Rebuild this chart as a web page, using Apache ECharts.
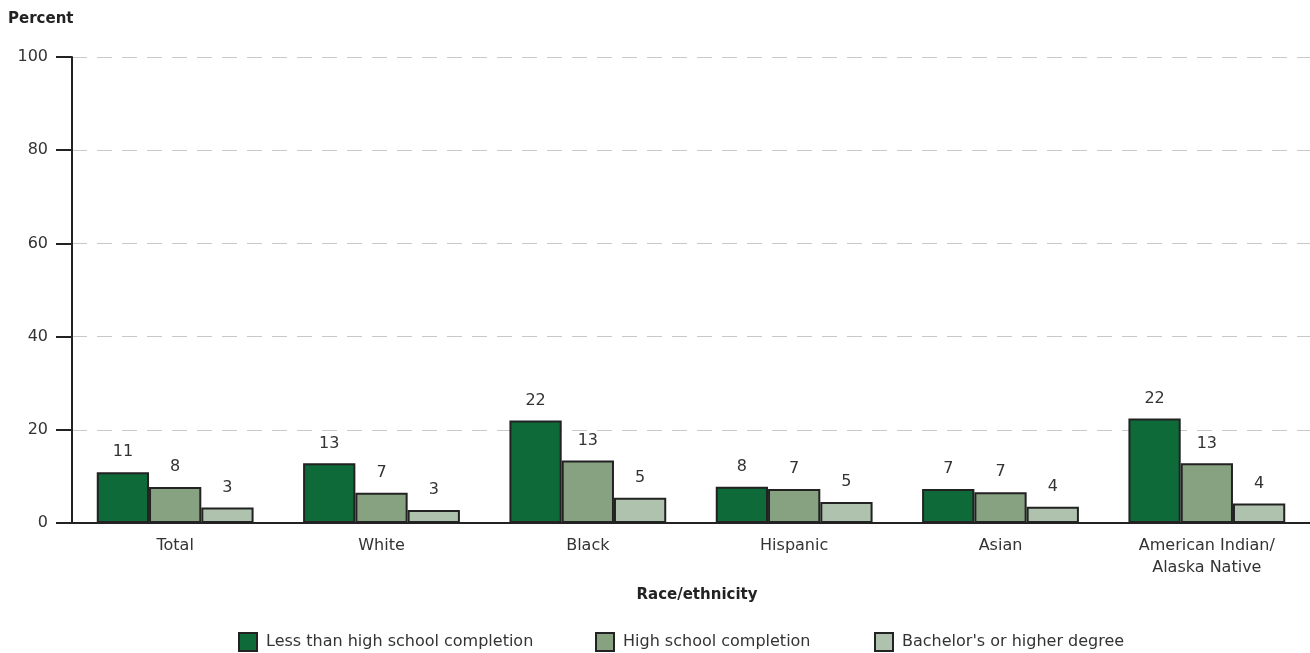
<!DOCTYPE html>
<html><head><meta charset="utf-8">
<script src="https://cdn.jsdelivr.net/npm/echarts@6/dist/echarts.min.js"></script>
<style>html,body{margin:0;padding:0;background:#fff}#c{width:1310px;height:653px}</style>
</head><body><div id="c"></div>
<script>
const categories = ['Total','White','Black','Hispanic','Asian','American Indian/\nAlaska Native'];
const seriesNames = ['Less than high school completion','High school completion',"Bachelor's or higher degree"];
const lessThanHS = [10.9, 12.8, 22.0, 7.8, 7.3, 22.4];
const hsCompletion = [7.7, 6.5, 13.4, 7.3, 6.6, 12.8];
const bachelors = [3.3, 2.8, 5.4, 4.5, 3.5, 4.2];
const yTicks = [0, 20, 40, 60, 80, 100];
const colors = ['#0f6a39', '#86a281', '#afc2ad'];
const FONT = 'DejaVu Sans';

const chart = echarts.init(document.getElementById('c'), null, {renderer:'canvas'});
const mk = (name, data, i) => ({
  name, type:'bar', data,
  barGap:'0%', barCategoryGap:'24%',
  itemStyle:{color:colors[i], borderColor:'#222', borderWidth:2},
  label:{show:true, position:'top', distance:12, color:'#333', fontSize:16, fontFamily:FONT,
    formatter:p=>Math.round(p.value)},
  emphasis:{disabled:true}
});
const legendLefts = [238, 595, 874];
chart.setOption({
  animation:false,
  textStyle:{fontFamily:FONT},
  title:[
    {text:'Percent', left:8, top:12, padding:0, textStyle:{fontSize:15, fontWeight:'bold', color:'#222', fontFamily:FONT}},
    {text:'Race/ethnicity', left:697, top:588, padding:0, textAlign:'center', textStyle:{fontSize:15, fontWeight:'bold', color:'#222', fontFamily:FONT}}
  ],
  legend:seriesNames.map((n,i)=>({
    left:legendLefts[i], top:632, padding:0, itemWidth:18, itemHeight:18,
    icon:'rect', selectedMode:false,
    textStyle:{fontSize:16, color:'#333', fontFamily:FONT, padding:[0,0,0,4]},
    data:[{name:n, itemStyle:{color:colors[i], borderColor:'#222', borderWidth:2}}]
  })),
  grid:{left:72, top:57, width:1248, bottom:130, containLabel:false},
  xAxis:{
    type:'category', data:categories,
    axisLine:{lineStyle:{color:'#222', width:2}},
    axisTick:{show:false},
    axisLabel:{color:'#333', fontSize:16, margin:12, lineHeight:22, fontFamily:FONT, interval:0}
  },
  yAxis:{
    type:'value', min:yTicks[0], max:yTicks[yTicks.length-1], interval:20,
    axisLine:{show:true, lineStyle:{color:'#222', width:2}},
    axisTick:{show:true, length:16, lineStyle:{color:'#222', width:2}},
    axisLabel:{color:'#333', fontSize:16, margin:24, fontFamily:FONT},
    splitLine:{show:true, lineStyle:{color:'#c8c8c8', type:[15,10], width:1}}
  },
  series:[mk(seriesNames[0], lessThanHS, 0), mk(seriesNames[1], hsCompletion, 1), mk(seriesNames[2], bachelors, 2)]
});
</script></body></html>
